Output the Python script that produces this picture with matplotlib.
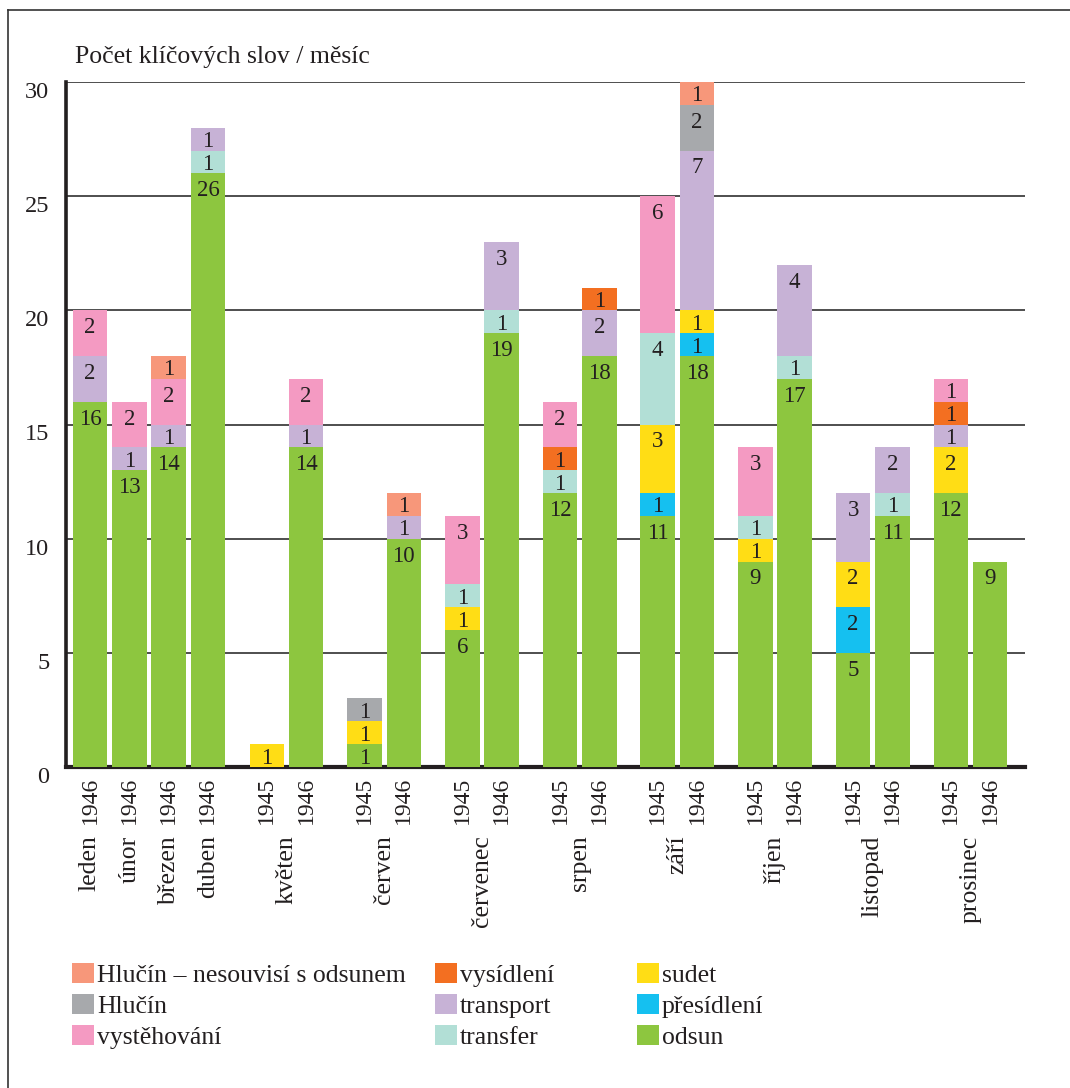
import matplotlib.pyplot as plt
from matplotlib.patches import Patch
from matplotlib.lines import Line2D
from matplotlib.transforms import ScaledTranslation

plt.rcParams['font.family'] = ['Liberation Serif', 'DejaVu Serif']

# kategorie (poradi od spodu sloupce)
categories = ['odsun', 'přesídlení', 'sudet', 'transfer', 'transport',
              'vysídlení', 'vystěhování', 'Hlučín', 'Hlučín – nesouvisí s odsunem']
colors = ['#8DC63F', '#15C0F0', '#FFDD15', '#B2DFD6', '#C7B2D6',
          '#F36F21', '#F49AC2', '#A7A9AC', '#F7977A']

# sloupce: mesic, rok
months = ['leden', 'únor', 'březen', 'duben', 'květen', 'červen', 'červenec',
          'srpen', 'září', 'říjen', 'listopad', 'prosinec']
years = ['1946', '1946', '1946', '1946',
         '1945', '1946', '1945', '1946', '1945', '1946', '1945', '1946',
         '1945', '1946', '1945', '1946', '1945', '1946', '1945', '1946']

# hodnoty pro kazdy sloupec, poradi jako categories
odsun       = [16, 13, 14, 26, 0, 14, 1, 10, 6, 19, 12, 18, 11, 18, 9, 17, 5, 11, 12, 9]
presidleni  = [0, 0, 0, 0, 0, 0, 0, 0, 0, 0, 0, 0, 1, 1, 0, 0, 2, 0, 0, 0]
sudet       = [0, 0, 0, 0, 1, 0, 1, 0, 1, 0, 0, 0, 3, 1, 1, 0, 2, 0, 2, 0]
transfer    = [0, 0, 0, 1, 0, 0, 0, 0, 1, 1, 1, 0, 4, 0, 1, 1, 0, 1, 0, 0]
transport   = [2, 1, 1, 1, 0, 1, 0, 1, 0, 3, 0, 2, 0, 7, 0, 4, 3, 2, 1, 0]
vysidleni   = [0, 0, 0, 0, 0, 0, 0, 0, 0, 0, 1, 1, 0, 0, 0, 0, 0, 0, 1, 0]
vystehovani = [2, 2, 2, 0, 0, 2, 0, 0, 3, 0, 2, 0, 6, 0, 3, 0, 0, 0, 1, 0]
hlucin      = [0, 0, 0, 0, 0, 0, 1, 0, 0, 0, 0, 0, 0, 2, 0, 0, 0, 0, 0, 0]
hlucin_nes  = [0, 0, 1, 0, 0, 0, 0, 1, 0, 0, 0, 0, 0, 1, 0, 0, 0, 0, 0, 0]
series = [odsun, presidleni, sudet, transfer, transport,
          vysidleni, vystehovani, hlucin, hlucin_nes]

# pozice sloupcu: 4 samostatne, pak dvojice 1945/1946
pair_gap = 2.486
xpos = [0, 1, 2, 3]
for i in range(8):
    xpos += [4.5 + pair_gap * i, 5.5 + pair_gap * i]
month_x = xpos[:4] + [(xpos[4 + 2 * i] + xpos[5 + 2 * i]) / 2 for i in range(8)]

fig = plt.figure(figsize=(10.7, 10.88), dpi=100)
ax = fig.add_axes([66 / 1070, 1 - 767 / 1088, 959 / 1070, 685 / 1088])

bottom = [0] * len(xpos)
for vals, col in zip(series, colors):
    ax.bar(xpos, vals, width=0.88, bottom=bottom, color=col, zorder=3, linewidth=0)
    for x, b, v in zip(xpos, bottom, vals):
        if v > 0:
            yl = b + v - min(v, 1.3) / 2
            ax.text(x, yl, str(v), ha='center', va='center_baseline',
                    fontsize=16.5, color='#231F20', zorder=4)
    bottom = [b + v for b, v in zip(bottom, vals)]

ax.set_xlim(-0.61, 23.79)
ax.set_ylim(0, 30)
ax.set_yticks(range(0, 31, 5))
ax.yaxis.grid(True, color='#404040', linewidth=1.3, zorder=0)
ax.set_axisbelow(True)
ax.set_xticks(xpos)
ax.set_xticklabels(years, rotation=90, va='top', fontsize=17)
ax.tick_params(axis='both', length=0, colors='#231F20')
ax.tick_params(axis='x', pad=7, labelsize=17)
ax.tick_params(axis='y', pad=12, labelsize=17.5)
for lab in ax.get_yticklabels():
    lab.set_transform(lab.get_transform() + ScaledTranslation(0, -8 / 100, fig.dpi_scale_trans))

for s in ['top', 'right']:
    ax.spines[s].set_visible(False)
ax.spines['left'].set_linewidth(2.6)
ax.spines['bottom'].set_linewidth(3)
ax.spines['left'].set_color('#231F20')
ax.spines['bottom'].set_color('#231F20')

for x, m in zip(month_x, months):
    ax.text(x, -0.1, m, rotation=90, ha='center', va='top', fontsize=18.5,
            color='#231F20', transform=ax.get_xaxis_transform())

fig.text(75 / 1070, 1 - 63 / 1088, 'Počet klíčových slov / měsíc', fontsize=18.5,
         color='#231F20', va='baseline', ha='left')

# ramecek
fig.add_artist(Line2D([8 / 1070, 8 / 1070], [0, 1 - 10 / 1088], color='#333333',
                      linewidth=1.2, transform=fig.transFigure))
fig.add_artist(Line2D([8 / 1070, 1], [1 - 10 / 1088, 1 - 10 / 1088], color='#333333',
                      linewidth=1.2, transform=fig.transFigure))

# legenda ve trech sloupcich
order = list(range(len(categories)))[::-1]
cols_x = [72, 435, 637]
for c in range(3):
    idx = order[c * 3:(c + 1) * 3]
    handles = [Patch(facecolor=colors[i], edgecolor='none') for i in idx]
    labels = [categories[i] for i in idx]
    fig.legend(handles, labels, loc='upper left',
               bbox_to_anchor=(cols_x[c] / 1070, 1 - 963 / 1088),
               frameon=False, fontsize=18.5, borderpad=0, borderaxespad=0,
               handlelength=0.85, handleheight=0.85, handletextpad=0.12,
               labelspacing=0.26, labelcolor='#231F20')

fig.savefig('out.png', dpi=100)
